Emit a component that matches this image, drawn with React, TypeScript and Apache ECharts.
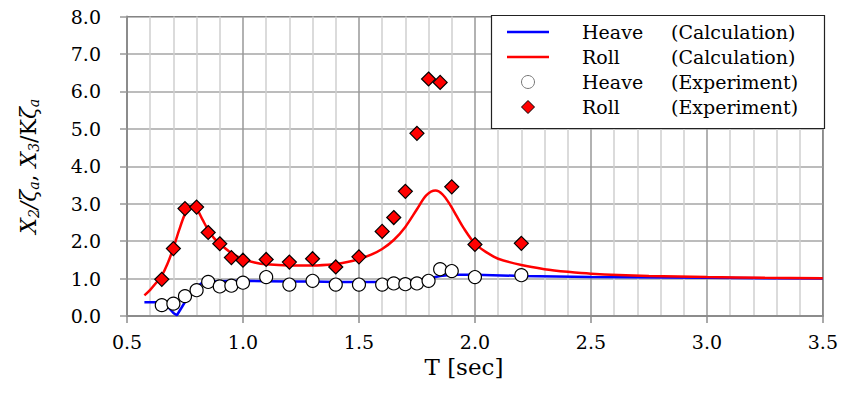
import React, { useEffect, useRef } from "react";
import * as echarts from "echarts";

// Calculated heave response (period T [sec] vs amplitude ratio)
const T_HEAVE_CALC = [0.575, 0.6, 0.63, 0.655, 0.68, 0.7, 0.715, 0.735, 0.76, 0.79, 0.82, 0.86, 0.9, 1.0, 1.1, 1.2, 1.3, 1.4, 1.5, 1.6, 1.7, 1.75, 1.8, 1.85, 1.9, 2.0, 2.2, 2.5, 3.0, 3.5];
const HEAVE_CALC = [0.37, 0.37, 0.37, 0.36, 0.22, 0.08, 0.02, 0.22, 0.48, 0.72, 0.87, 0.92, 0.93, 0.94, 0.93, 0.92, 0.92, 0.91, 0.91, 0.91, 0.92, 0.95, 1.0, 1.07, 1.1, 1.1, 1.07, 1.04, 1.02, 1.0];

// Calculated roll response
const T_ROLL_CALC = [0.575, 0.6, 0.625, 0.65, 0.675, 0.7, 0.725, 0.75, 0.775, 0.8, 0.825, 0.85, 0.875, 0.9, 0.95, 1.0, 1.05, 1.1, 1.2, 1.3, 1.4, 1.45, 1.5, 1.55, 1.6, 1.65, 1.7, 1.75, 1.79, 1.83, 1.86, 1.89, 1.92, 1.95, 2.0, 2.05, 2.1, 2.2, 2.3, 2.4, 2.5, 2.75, 3.0, 3.25, 3.5];
const ROLL_CALC = [0.55, 0.7, 0.88, 1.08, 1.4, 1.82, 2.3, 2.72, 2.93, 2.86, 2.58, 2.3, 2.08, 1.93, 1.68, 1.52, 1.43, 1.38, 1.35, 1.35, 1.39, 1.44, 1.52, 1.63, 1.79, 2.03, 2.38, 2.85, 3.22, 3.35, 3.25, 3.0, 2.68, 2.36, 1.93, 1.7, 1.53, 1.36, 1.25, 1.18, 1.13, 1.07, 1.04, 1.02, 1.01];

// Experiments
const T_EXP = [0.65, 0.7, 0.75, 0.8, 0.85, 0.9, 0.95, 1.0, 1.1, 1.2, 1.3, 1.4, 1.5, 1.6, 1.65, 1.7, 1.75, 1.8, 1.85, 1.9, 2.0, 2.2];
const HEAVE_EXP = [0.29, 0.33, 0.53, 0.69, 0.91, 0.79, 0.81, 0.89, 1.04, 0.84, 0.94, 0.84, 0.84, 0.84, 0.87, 0.85, 0.87, 0.94, 1.25, 1.2, 1.04, 1.09];
const ROLL_EXP = [0.98, 1.8, 2.87, 2.91, 2.23, 1.93, 1.56, 1.49, 1.51, 1.44, 1.53, 1.31, 1.58, 2.26, 2.63, 3.33, 4.88, 6.33, 6.24, 3.45, 1.91, 1.94];

const SERIES_NAMES = ["Heave (Calculation)", "Roll (Calculation)", "Heave (Experiment)", "Roll (Experiment)"];

const FONT = "DejaVu Serif";

const pairs = (xs: number[], ys: number[]) => xs.map((x, i) => [x, ys[i]]);

export default function App() {
  const ref = useRef<HTMLDivElement>(null);
  useEffect(() => {
    if (!ref.current) return;
    const chart = echarts.init(ref.current, null, { renderer: "svg" });
    const lineIcon = "path://M0,0H42V2.6H0Z";
    const diamondIcon = "path://M7,0L14,7L7,14L0,7Z";
    const option: any = {
      animation: false,
      backgroundColor: "#fff",
      textStyle: { fontFamily: FONT },
      grid: {
        left: 127,
        right: 15,
        top: 16.5,
        bottom: 78,
        show: true,
        borderColor: "#222",
        borderWidth: 1.2,
        backgroundColor: "transparent",
      },
      xAxis: {
        type: "value",
        min: 0.5,
        max: 3.5,
        interval: 0.5,
        name: "T [sec]",
        nameLocation: "middle",
        nameGap: 38,
        nameTextStyle: { fontFamily: FONT, fontSize: 23, color: "#000", padding: [0, 22, 0, 0] },
        axisLine: { show: true, onZero: false, lineStyle: { color: "#8c8c8c", width: 2 } },
        axisTick: { show: true, length: 7, lineStyle: { color: "#8c8c8c", width: 1.5 } },
        axisLabel: {
          margin: 16,
          fontFamily: FONT,
          fontSize: 19,
          color: "#000",
          formatter: (v: number) => v.toFixed(1),
        },
        splitLine: { show: true, lineStyle: { color: "#999", width: 1.5 } },
        minorTick: { show: false, splitNumber: 5 },
        minorSplitLine: { show: true, lineStyle: { color: "#cfcfcf", width: 1.5 } },
      },
      yAxis: {
        type: "value",
        min: 0,
        max: 8,
        interval: 1,
        name: "{i|X}{s|2}{i|/ζ}{s|a}{r|, }{i|X}{s|3}{r|/K}{i|ζ}{s|a}",
        nameLocation: "middle",
        nameRotate: 90,
        nameGap: 86,
        nameTextStyle: {
          color: "#000",
          rich: {
            i: { fontFamily: FONT, fontStyle: "italic", fontSize: 22, lineHeight: 26, color: "#000" },
            r: { fontFamily: FONT, fontSize: 22, lineHeight: 26, color: "#000" },
            s: { fontFamily: FONT, fontStyle: "italic", fontSize: 14, lineHeight: 14, verticalAlign: "bottom", color: "#000" },
          },
        },
        axisLine: { show: true, lineStyle: { color: "#8c8c8c", width: 2 } },
        axisTick: { show: true, length: 7, lineStyle: { color: "#999", width: 1.5 } },
        axisLabel: {
          margin: 26,
          fontFamily: FONT,
          fontSize: 19,
          color: "#000",
          formatter: (v: number) => v.toFixed(1),
        },
        splitLine: { show: true, lineStyle: { color: "#a6a6a6", width: 1.5 } },
      },
      legend: {
        orient: "vertical",
        left: 507,
        top: 22,
        padding: 0,
        itemWidth: 42,
        itemHeight: 13,
        itemGap: 5,
        z: 20,
        selectedMode: false,
        symbolKeepAspect: true,
        data: [
          { name: SERIES_NAMES[0], icon: lineIcon, itemStyle: { color: "#0000ff", borderWidth: 0 } },
          { name: SERIES_NAMES[1], icon: lineIcon, itemStyle: { color: "#ff0000", borderWidth: 0 } },
          { name: SERIES_NAMES[2], icon: "circle", itemStyle: { color: "#fff", borderColor: "#777", borderWidth: 1 } },
          { name: SERIES_NAMES[3], icon: diamondIcon, itemStyle: { color: "#ff0000", borderColor: "#000", borderWidth: 1 } },
        ],
        formatter: (name: string) => {
          const k = name.indexOf(" (");
          return "{s| }{a|" + name.slice(0, k) + "}{b|" + name.slice(k + 1) + "}";
        },
        textStyle: {
          fontFamily: FONT,
          fontSize: 19,
          lineHeight: 20,
          color: "#000",
          rich: {
            s: { width: 28, fontSize: 19, fontFamily: FONT },
            a: { width: 89, fontSize: 19, fontFamily: FONT, color: "#000" },
            b: { fontSize: 19, fontFamily: FONT, color: "#000" },
          },
        },
      },
      graphic: {
        elements: [
          {
            type: "rect",
            z: 10,
            shape: { x: 491.5, y: 15.5, width: 333, height: 113 },
            style: { fill: "#fff", stroke: "#222", lineWidth: 1.2 },
          },
        ],
      },
      series: [
        {
          name: SERIES_NAMES[0],
          type: "line",
          data: pairs(T_HEAVE_CALC, HEAVE_CALC),
          showSymbol: false,
          symbol: "none",
          smooth: false,
          lineStyle: { color: "#0000ff", width: 2.5 },
          itemStyle: { color: "#0000ff" },
          z: 2,
        },
        {
          name: SERIES_NAMES[1],
          type: "line",
          data: pairs(T_ROLL_CALC, ROLL_CALC),
          showSymbol: false,
          symbol: "none",
          smooth: 0.3,
          lineStyle: { color: "#ff0000", width: 2.5 },
          itemStyle: { color: "#ff0000" },
          z: 3,
        },
        {
          name: SERIES_NAMES[2],
          type: "scatter",
          data: pairs(T_EXP, HEAVE_EXP),
          symbol: "circle",
          symbolSize: 13,
          itemStyle: { color: "#fff", borderColor: "#000", borderWidth: 1.2, opacity: 1 },
          z: 4,
        },
        {
          name: SERIES_NAMES[3],
          type: "scatter",
          data: pairs(T_EXP, ROLL_EXP),
          symbol: "diamond",
          symbolSize: 14,
          itemStyle: { color: "#ff0000", borderColor: "#000", borderWidth: 1.2, opacity: 1 },
          z: 5,
        },
      ],
    };
    chart.setOption(option);
    return () => chart.dispose();
  }, []);
  return <div ref={ref} style={{ width: 841, height: 394, position: "absolute", left: 0, top: 0 }} />;
}
